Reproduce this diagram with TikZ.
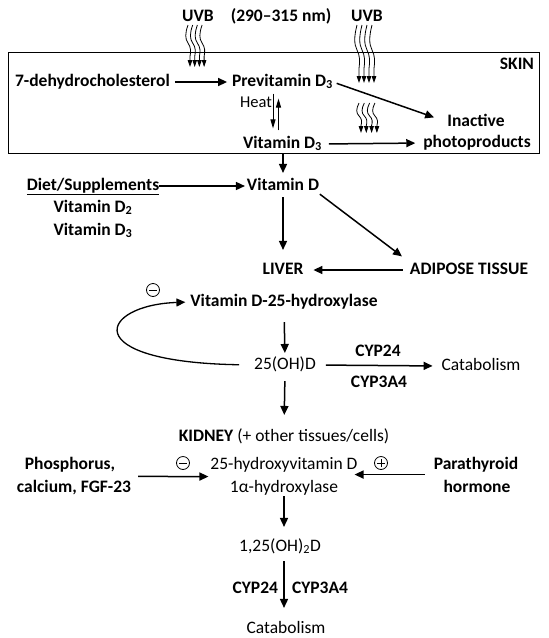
\documentclass[tikz,border=0pt]{standalone}
\usepackage{fontspec}
\setmainfont{Carlito}
\usetikzlibrary{arrows.meta,calc}
\begin{document}
\begin{tikzpicture}[x=1pt,y=-1pt,
  lbl/.style={inner sep=0pt, outer sep=0pt, text height=11.6pt, text depth=3.5pt},
  bl/.style={lbl, font=\fontsize{17.5}{22}\selectfont\bfseries},
  rl/.style={lbl, font=\fontsize{17.5}{22}\selectfont},
  arr/.style={-{Triangle[length=9pt,width=8pt]}, line width=1.5pt},
  uv/.style={-{Triangle[length=7pt,width=4.5pt]}, line width=0.8pt},
  sign/.style={circle, draw, line width=0.8pt, minimum size=13pt, inner sep=0pt},
]
\useasboundingbox (0,0) rectangle (549,638);

% skin box
\node[draw, line width=0.9pt, minimum width=531pt, minimum height=101pt, inner sep=0pt] (skinbox) at (273.5,102.5) {};

% top labels
\node[bl] (uvb1) at (198,17) {UVB};
\node[bl] (nm) at (281,17) {(290–315 nm)};
\node[bl] (uvb2) at (367,17) {UVB};
\node[bl, anchor=east] (skin) at (534,65) {SKIN};

\node[bl] (dehydro) at (92.5,82) {7-dehydrocholesterol};
\node[bl] (previt) at (282.5,82) {Previtamin D\textsubscript{3}};
\node[lbl, font=\fontsize{16.5}{20}\selectfont] (heat) at (256,103) {Heat};
\node[bl] (vitd3) at (282.5,144) {Vitamin D\textsubscript{3}};
\node[bl] (inact) at (476,122) {Inactive};
\node[bl] (photo) at (477,143) {photoproducts};

% UV wavy bundles
\foreach \x/\ya/\yb/\d in {188/25/67/4.7, 357/25/83/5, 359/103/133/5.3}{
  \foreach \i in {0,...,3}{
    \pgfmathsetmacro{\xx}{\x+\i*\d}
    \pgfmathsetmacro{\h}{\yb-\ya}
    \draw[uv] (\xx,\ya) .. controls ({\xx-3},{\ya+0.2*\h}) and ({\xx-3},{\ya+0.33*\h}) .. (\xx,{\ya+0.43*\h})
      .. controls ({\xx+3},{\ya+0.53*\h}) and ({\xx+3},{\ya+0.63*\h}) .. ({\xx+2},{\ya+0.75*\h}) -- ({\xx+2},\yb);
  }
}

% skin arrows
\draw[arr, shorten <=5pt, shorten >=5pt] (dehydro.east) -- (previt.west);
\draw[arr, shorten <=4pt, shorten >=14pt] (previt.east) -- (inact.west);
\draw[arr, shorten <=7pt, shorten >=8pt] (vitd3.east) -- (photo.west);
\draw[-{Triangle[length=9pt,width=5pt]}, line width=1pt, shorten <=4pt, shorten >=8pt]
  ([xshift=-9.5pt]previt.south) -- ([xshift=-9.5pt]vitd3.north);
\draw[-{Triangle[length=9pt,width=5pt]}, line width=1pt, shorten <=6pt, shorten >=9pt]
  ([xshift=-4pt]vitd3.north) -- ([xshift=-4pt]previt.south);

% diet
\node[bl] (diet) at (93,186) {\underline{Diet/Supplements}};
\node[bl] (d2) at (93,208) {Vitamin D\textsubscript{2}};
\node[bl] (d3) at (93,231) {Vitamin D\textsubscript{3}};
\node[bl] (vitd) at (283,186) {Vitamin D};
\node[bl] (liver) at (283,270) {LIVER};
\node[bl] (adipose) at (469,270) {ADIPOSE TISSUE};

\draw[arr, shorten >=5.5pt] (skinbox.south -| vitd.north) -- (vitd.north);
\draw[arr, shorten >=2pt] (diet.east) -- (vitd.west);
\draw[arr, shorten <=3.5pt, shorten >=12.5pt] (vitd.south) -- (liver.north);
\draw[arr, shorten <=1pt, shorten >=10pt] (vitd.south east) -- (adipose.north west);
\draw[arr, shorten <=7pt, shorten >=10pt] (adipose.west) -- (liver.east);

% liver enzyme
\node[sign] (m1) at (153,290) {};
\draw[line width=0.8pt] ([xshift=-4pt]m1.center) -- ([xshift=4pt]m1.center);
\node[bl] (hyd25) at (284,302) {Vitamin D-25-hydroxylase};
\node[rl] (oh25) at (285,365) {25(OH)D};
\node[bl] (cyp24a) at (378,352) {CYP24};
\node[bl] (cyp3a4a) at (379,383) {CYP3A4};
\node[rl] (cat1) at (481,366) {Catabolism};

\draw[arr, shorten <=12.5pt, shorten >=4.5pt] (hyd25.south) -- (oh25.north);
\draw[arr, shorten <=10pt, shorten >=9pt] (oh25.east) -- (cat1.west);
\draw[arr, line width=1.3pt, shorten <=15pt, shorten >=5pt] (oh25.west) .. controls (75,362) and (100,305) .. (hyd25.west);

% kidney
\node[lbl, font=\fontsize{17.5}{22}\selectfont] (kidney) at (284,437) {\textbf{KIDNEY} (+ other tissues/cells)};
\draw[arr, shorten <=8.5pt, shorten >=14.5pt] (oh25.south) -- (kidney.north);

\node[sign] (m2) at (183,463) {};
\draw[line width=0.8pt] ([xshift=-4pt]m2.center) -- ([xshift=4pt]m2.center);
\node[rl] (hv) at (284,465) {25-hydroxyvitamin D};
\node[sign] (p2) at (381,463) {};
\draw[line width=0.8pt] ([xshift=-4pt]p2.center) -- ([xshift=4pt]p2.center)
  ([yshift=-4pt]p2.center) -- ([yshift=4pt]p2.center);
\node[rl] (hx) at (284,488) {1α-hydroxylase};
\node[bl] (phos1) at (70,465) {Phosphorus,};
\node[bl] (phos2) at (74,488) {calcium, FGF-23};
\node[bl] (pth1) at (476,465) {Parathyroid};
\node[bl] (pth2) at (477,488) {hormone};

\draw[arr] ([shift={(7pt,4pt)}]phos2.north east) -- ([shift={(-2pt,-4pt)}]hv.south west);
\draw[arr] ([shift={(-9pt,-2pt)}]pth1.south west) -- ([shift={(-3pt,-2pt)}]hv.south east);

\node[rl] (oh2) at (280,547) {1,25(OH)\textsubscript{2}D};
\draw[arr, shorten <=0.5pt, shorten >=12.5pt] (hx.south) -- (hx.south |- oh2.north);
\node[bl, anchor=east] (cyp24b) at (278,589) {CYP24};
\node[bl, anchor=west] (cyp3a4b) at (292,589) {CYP3A4};
\node[rl] (cat2) at (286,629) {Catabolism};
\draw[arr, shorten <=6.5pt, shorten >=13.5pt] (hx.south |- oh2.south) -- (hx.south |- cat2.north);
\end{tikzpicture}
\end{document}
